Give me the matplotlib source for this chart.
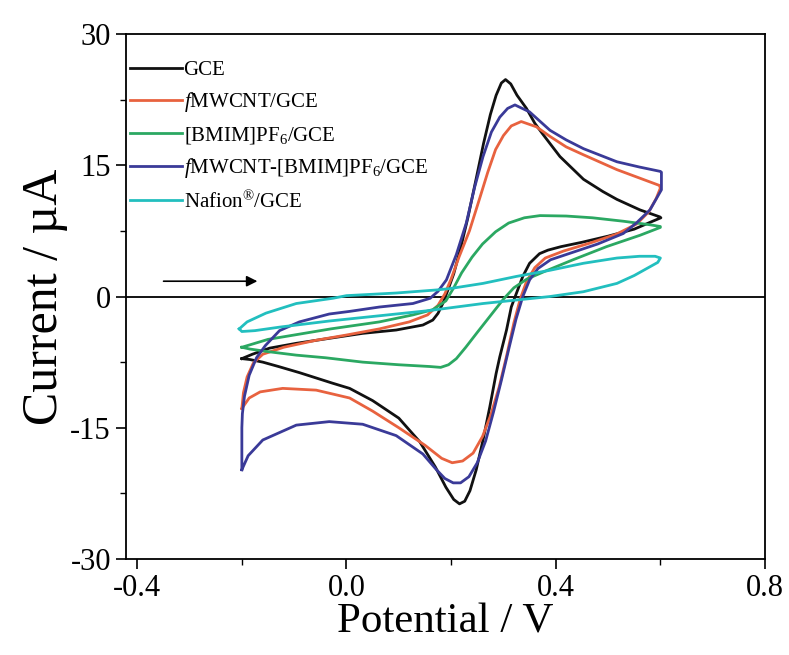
import matplotlib
matplotlib.use('Agg')
import matplotlib.pyplot as plt
from matplotlib.ticker import MultipleLocator

plt.rcParams['font.family'] = ['Liberation Serif', 'DejaVu Serif']
plt.rcParams['mathtext.fontset'] = 'custom'
plt.rcParams['mathtext.rm'] = 'Liberation Serif'
plt.rcParams['mathtext.it'] = 'Liberation Serif:italic'
plt.rcParams['axes.unicode_minus'] = False

# GCE: forward scan then reverse scan (V, uA)
gce_v = [-0.200, -0.180, -0.147, -0.096, -0.033, 0.031, 0.095, 0.146, 0.165, 0.175,
         0.184, 0.193, 0.205, 0.218, 0.232, 0.248, 0.262, 0.275, 0.286, 0.296,
         0.304, 0.314, 0.326, 0.344, 0.360, 0.376, 0.408, 0.453, 0.490, 0.517,
         0.561, 0.599,
         0.601, 0.585, 0.550, 0.500, 0.450, 0.410, 0.385, 0.369, 0.350, 0.337,
         0.325, 0.315, 0.306, 0.293, 0.286, 0.274, 0.261, 0.248, 0.236, 0.226,
         0.216, 0.205, 0.190, 0.170, 0.140, 0.100, 0.050, 0.006, -0.027, -0.090,
         -0.130, -0.160, -0.185, -0.200]
gce_i = [-7.1, -6.6, -5.9, -5.35, -4.78, -4.21, -3.83, -3.26, -2.69, -1.92,
         -0.8, 0.6, 2.6, 5.5, 9.0, 13.5, 17.5, 20.8, 23.0, 24.4,
         24.8, 24.3, 23.0, 21.5, 19.8, 18.5, 16.0, 13.4, 12.0, 11.1,
         9.9, 9.1,
         9.0, 8.6, 7.7, 6.9, 6.2, 5.7, 5.3, 4.9, 3.8, 2.3,
         0.4, -1.2, -3.8, -6.9, -8.8, -12.6, -16.4, -19.8, -22.2, -23.4,
         -23.7, -23.2, -21.8, -19.5, -16.6, -13.9, -11.9, -10.5, -9.9, -8.7,
         -8.0, -7.5, -7.2, -7.1]

# fMWCNT/GCE
mwcnt_v = [-0.200, -0.197, -0.190, -0.178, -0.160, -0.120, -0.058, 0.000, 0.063, 0.120,
           0.155, 0.175, 0.188, 0.200, 0.215, 0.235, 0.255, 0.270, 0.285, 0.300,
           0.315, 0.334, 0.363, 0.389, 0.420, 0.453, 0.517, 0.580, 0.598,
           0.600, 0.592, 0.578, 0.555, 0.515, 0.465, 0.415, 0.380, 0.360, 0.344,
           0.332, 0.320, 0.306, 0.292, 0.276, 0.260, 0.242, 0.222, 0.202, 0.182,
           0.150, 0.100, 0.050, 0.006, -0.058, -0.122, -0.165, -0.186, -0.200]
mwcnt_i = [-12.8, -11.0, -9.2, -7.6, -6.6, -5.8, -5.0, -4.4, -3.7, -2.9,
           -2.1, -1.0, 0.3, 2.0, 4.5, 7.5, 11.3, 14.2, 16.8, 18.4,
           19.5, 20.0, 19.4, 18.3, 17.1, 16.2, 14.5, 13.1, 12.7,
           12.4, 11.2, 9.7, 8.3, 7.1, 6.1, 5.2, 4.4, 3.3, 1.7,
           -0.3, -3.0, -6.8, -10.3, -13.5, -16.0, -17.9, -18.8, -19.0, -18.5,
           -17.0, -15.0, -13.1, -11.6, -10.7, -10.5, -10.9, -11.6, -12.8]

# [BMIM]PF6/GCE
il_v = [-0.200, -0.150, -0.090, -0.030, 0.063, 0.127, 0.165, 0.190, 0.205, 0.220,
        0.240, 0.260, 0.285, 0.310, 0.340, 0.370, 0.420, 0.470, 0.530, 0.580,
        0.600,
        0.600, 0.561, 0.497, 0.433, 0.380, 0.345, 0.320, 0.300, 0.275, 0.250,
        0.228, 0.210, 0.195, 0.180, 0.159, 0.100, 0.031, -0.040, -0.096, -0.150,
        -0.185, -0.200]
il_i = [-5.8, -4.9, -4.3, -3.7, -2.9, -2.1, -1.5, -0.5, 1.0, 2.7,
        4.5, 6.0, 7.4, 8.4, 9.0, 9.25, 9.2, 9.0, 8.6, 8.2,
        8.0,
        7.9, 7.0, 5.7, 4.2, 2.9, 2.0, 1.0, -0.3, -2.2, -4.1,
        -5.8, -7.1, -7.8, -8.1, -8.0, -7.8, -7.5, -7.0, -6.7, -6.3,
        -6.0, -5.8]

# fMWCNT-[BMIM]PF6/GCE
comp_v = [-0.200, -0.200, -0.199, -0.195, -0.186, -0.172, -0.155, -0.128, -0.090, -0.033,
          0.006, 0.063, 0.127, 0.160, 0.175, 0.191, 0.210, 0.229, 0.245, 0.261,
          0.277, 0.293, 0.308, 0.322, 0.350, 0.389, 0.420, 0.453, 0.517, 0.560,
          0.600,
          0.602, 0.602, 0.580, 0.554, 0.529, 0.480, 0.430, 0.390, 0.366, 0.350,
          0.337, 0.324, 0.311, 0.296, 0.281, 0.266, 0.250, 0.234, 0.218, 0.204,
          0.188, 0.172, 0.146, 0.095, 0.031, -0.033, -0.096, -0.160, -0.188, -0.200]
comp_i = [-19.8, -15.0, -13.4, -11.4, -9.0, -7.0, -5.6, -3.9, -2.9, -2.0,
          -1.7, -1.2, -0.8, -0.2, 0.6, 1.9, 4.8, 8.4, 12.5, 16.0,
          18.8, 20.5, 21.5, 21.9, 21.1, 19.0, 17.9, 16.9, 15.4, 14.8,
          14.3,
          14.2, 12.2, 9.9, 8.4, 7.2, 6.0, 5.0, 4.2, 3.2, 1.9,
          0.0, -2.6, -5.8, -9.6, -13.2, -16.5, -19.0, -20.6, -21.3, -21.3,
          -20.8, -19.8, -18.0, -15.9, -14.6, -14.3, -14.7, -16.4, -18.2, -19.8]

# Nafion/GCE
naf_v = [-0.205, -0.190, -0.154, -0.096, -0.026, 0.000, 0.095, 0.172, 0.197, 0.261,
         0.325, 0.389, 0.453, 0.517, 0.560, 0.590, 0.600,
         0.595, 0.580, 0.550, 0.517, 0.453, 0.389, 0.325, 0.261, 0.197, 0.159,
         0.063, -0.033, -0.128, -0.175, -0.200, -0.205]
naf_i = [-3.7, -2.9, -1.9, -0.8, -0.2, 0.1, 0.4, 0.75, 0.9, 1.5,
         2.3, 3.0, 3.8, 4.4, 4.6, 4.6, 4.4,
         3.9, 3.4, 2.4, 1.5, 0.55, 0.0, -0.4, -0.8, -1.3, -1.6,
         -2.2, -2.8, -3.5, -3.9, -4.0, -3.7]

labels = ['GCE', '$f$MWCNT/GCE', '[BMIM]PF$_6$/GCE',
          '$f$MWCNT-[BMIM]PF$_6$/GCE', 'Nafion$^{\u00ae}$/GCE']
colors = ['#111111', '#e8623f', '#2ba862', '#3a3a98', '#22bfbf']

fig = plt.figure(figsize=(7.89, 6.55), dpi=100)
ax = fig.add_axes([0.160, 0.1466, 0.8096, 0.8014])

ax.axhline(0, color='black', lw=1.3, zorder=1)

series = [(gce_v, gce_i), (mwcnt_v, mwcnt_i), (il_v, il_i),
          (comp_v, comp_i), (naf_v, naf_i)]
for (v, i), lab, c in zip(series, labels, colors):
    ax.plot(v, i, color=c, lw=2.0, label=lab, solid_joinstyle='round')

# scan direction arrow
ax.annotate('', xy=(-0.165, 1.75), xytext=(-0.355, 1.75),
            arrowprops=dict(arrowstyle='-|>', color='black', lw=1.2, mutation_scale=16))

ax.set_xlim(-0.421, 0.8)
ax.set_ylim(-30, 30)
ax.xaxis.set_major_locator(MultipleLocator(0.4))
ax.xaxis.set_minor_locator(MultipleLocator(0.2))
ax.yaxis.set_major_locator(MultipleLocator(15))
ax.yaxis.set_minor_locator(MultipleLocator(7.5))
ax.xaxis.set_major_formatter(plt.FormatStrFormatter('%.1f'))
ax.yaxis.set_major_formatter(plt.FormatStrFormatter('%d'))
ax.tick_params(which='major', direction='out', length=7, width=1.2, labelsize=22, pad=4)
ax.tick_params(which='minor', direction='out', length=4, width=1.0)
for s in ax.spines.values():
    s.set_linewidth(1.3)

ax.set_xlabel('Potential / V', fontsize=31, labelpad=0)
ax.set_ylabel('Current / \u00b5A', fontsize=36, labelpad=2)

ax.legend(loc='upper left', bbox_to_anchor=(0.0, 0.958), frameon=False,
          fontsize=15, handlelength=2.5, handletextpad=0.05,
          labelspacing=0.5, borderaxespad=0.0, borderpad=0.2)

fig.savefig('out.png', dpi=100)
